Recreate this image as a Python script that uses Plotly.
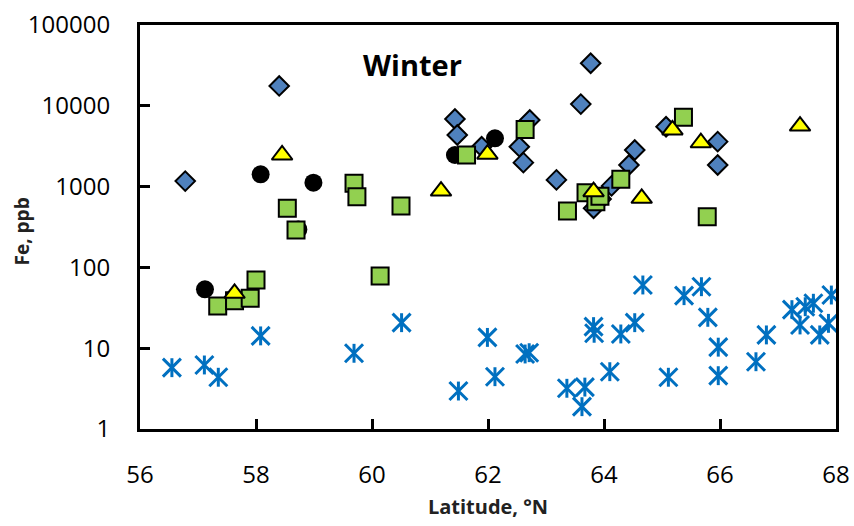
import plotly.graph_objects as go

# ---- data ----
diamond_lat = [56.78, 58.40, 61.43, 61.47, 61.89, 62.72, 62.54, 62.61, 63.18, 63.60,
               63.77, 63.82, 63.95, 64.13, 64.43, 64.53, 65.07, 65.96, 65.96]
diamond_fe = [1170, 17600, 6870, 4350, 3120, 6670, 3120, 1980, 1210, 10500,
              33600, 540, 700, 1020, 1850, 2840, 5500, 3600, 1850]

circle_lat = [57.12, 58.08, 58.73, 58.99, 61.43, 62.12]
circle_fe = [53.6, 1420, 295, 1117, 2460, 3960]

square_lat = [57.34, 57.63, 57.90, 58.00, 58.54, 58.69, 59.69, 59.74, 60.14, 60.50,
              61.63, 62.64, 63.37, 63.69, 63.86, 63.93, 64.29, 65.37, 65.78]
square_fe = [33.3, 38.7, 41.4, 69.8, 540, 290, 1100, 750, 78.3, 575,
             2460, 5100, 500, 840, 650, 760, 1230, 7200, 425]

triangle_lat = [57.63, 58.45, 61.19, 61.99, 63.82, 64.65, 65.18, 65.67, 67.38]
triangle_fe = [47.8, 2460, 880, 2520, 865, 716, 5030, 3490, 5620]

star_lat = [56.55, 57.11, 57.35, 58.08, 59.69, 60.51, 61.49, 61.99, 62.12, 62.64,
            62.71, 63.36, 63.67, 63.62, 63.82, 63.83, 64.10, 64.29, 64.53, 64.67,
            65.11, 65.38, 65.68, 65.79, 65.97, 65.97, 66.62, 66.80, 67.24, 67.47,
            67.61, 67.38, 67.72, 67.87, 67.92]
star_fe = [5.74, 6.2, 4.37, 14.2, 8.65, 20.7, 2.95, 13.6, 4.44, 8.48,
           8.8, 3.19, 3.3, 1.89, 18.5, 15.3, 5.12, 15.0, 20.7, 60.6,
           4.37, 44.7, 57.7, 24.1, 10.3, 4.57, 6.8, 14.6, 30.0, 32.6,
           36.0, 19.4, 14.6, 20.3, 45.5]

x_ticks = [56, 58, 60, 62, 64, 66, 68]
y_ticks = [1, 10, 100, 1000, 10000, 100000]
y_tick_text = ["1", "10", "100", "1000", "10000", "100000"]

FONT = "Open Sans"
STAR_BLUE = "#0070C0"

fig = go.Figure()

# asterisk-like star: X plus a vertical bar
fig.add_trace(go.Scatter(x=star_lat, y=star_fe, mode="markers", name="Fe (dissolved)",
                         marker=dict(symbol="x-thin-open", size=18, color=STAR_BLUE,
                                     line=dict(color=STAR_BLUE, width=3))))
fig.add_trace(go.Scatter(x=star_lat, y=star_fe, mode="markers", showlegend=False,
                         marker=dict(symbol="line-ns-open", size=13.5, color=STAR_BLUE,
                                     line=dict(color=STAR_BLUE, width=3))))
fig.add_trace(go.Scatter(x=diamond_lat, y=diamond_fe, mode="markers", name="Fe diamonds",
                         marker=dict(symbol="diamond", size=15, color="#4F81BD",
                                     line=dict(color="black", width=2))))
fig.add_trace(go.Scatter(x=circle_lat, y=circle_fe, mode="markers", name="Fe circles",
                         marker=dict(symbol="circle", size=18, color="black",
                                     line=dict(color="black", width=0))))
fig.add_trace(go.Scatter(x=square_lat, y=square_fe, mode="markers", name="Fe squares",
                         marker=dict(symbol="square", size=17, color="#92D050",
                                     line=dict(color="black", width=2))))
fig.add_trace(go.Scatter(x=triangle_lat, y=triangle_fe, mode="markers", name="Fe triangles",
                         marker=dict(symbol="triangle-up", size=18, color="#FFFF00",
                                     line=dict(color="black", width=2))))

fig.update_xaxes(range=[56, 68], tickvals=x_ticks, ticktext=[str(v) for v in x_ticks],
                 showline=True, linewidth=3, linecolor="black", mirror=True,
                 ticks="inside", ticklen=10, tickwidth=3, tickcolor="black",
                 showgrid=False, zeroline=False, ticklabelstandoff=22, automargin=False,
                 tickfont=dict(family=FONT, size=24, color="black"),
                 title=dict(text="<b>Latitude, °N</b>", standoff=12,
                            font=dict(family=FONT, size=20, color="#222")))
fig.update_yaxes(type="log", range=[0, 5], tickvals=y_ticks, ticktext=y_tick_text,
                 showline=True, linewidth=3, linecolor="black", mirror=True,
                 ticks="inside", ticklen=10, tickwidth=3, tickcolor="black",
                 showgrid=False, zeroline=False, ticklabelstandoff=22, automargin=False,
                 tickfont=dict(family=FONT, size=24, color="black"))

fig.add_annotation(text="<b>Fe, ppb</b>", xref="paper", yref="paper",
                   x=-0.169, y=0.49, xanchor="center", yanchor="middle",
                   textangle=-90, showarrow=False,
                   font=dict(family=FONT, size=19, color="#222"))
fig.add_annotation(text="<b>Winter</b>", xref="paper", yref="paper",
                   x=0.392, y=0.903, xanchor="center", yanchor="middle",
                   showarrow=False, font=dict(family=FONT, size=29, color="black"))

fig.update_layout(width=854, height=526, showlegend=False,
                  plot_bgcolor="white", paper_bgcolor="white",
                  margin=dict(l=140, r=18, t=25, b=97))

fig.write_html("out.html")
